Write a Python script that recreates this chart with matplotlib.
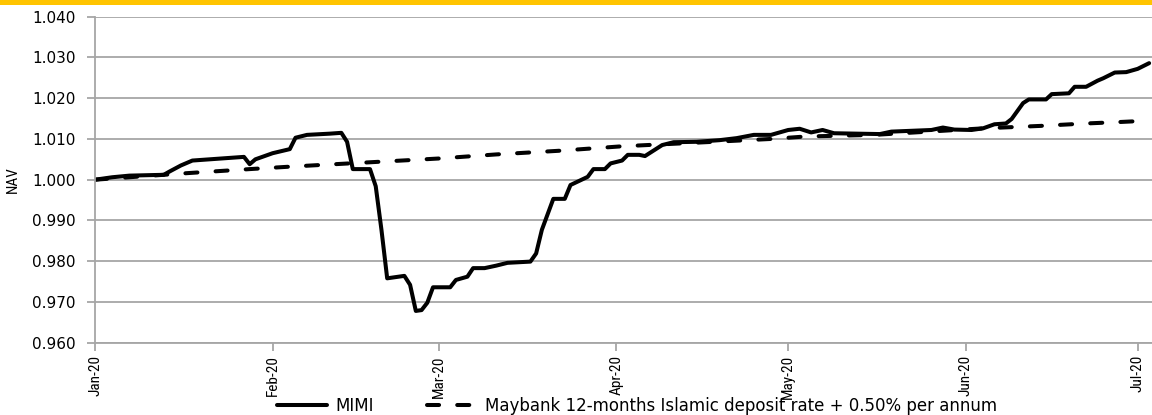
# NAV de MIMI frente al benchmark Maybank (ene-jul 2020)
import numpy as np
import pandas as pd
import matplotlib
matplotlib.use("Agg")
import matplotlib.pyplot as plt
import matplotlib.dates as mdates
from matplotlib.patches import Rectangle
from matplotlib import font_manager

# MIMI, valores
mimi_fechas = [
    "2020-01-01", "2020-01-04", "2020-01-07", "2020-01-13", "2020-01-14", "2020-01-16",
    "2020-01-18", "2020-01-21", "2020-01-27", "2020-01-28", "2020-01-29", "2020-02-01",
    "2020-02-04", "2020-02-05", "2020-02-07", "2020-02-11", "2020-02-13", "2020-02-14",
    "2020-02-15", "2020-02-18", "2020-02-19", "2020-02-20", "2020-02-21", "2020-02-24",
    "2020-02-25", "2020-02-26", "2020-02-27", "2020-02-28", "2020-02-29", "2020-03-03",
    "2020-03-04", "2020-03-06", "2020-03-07", "2020-03-09", "2020-03-11", "2020-03-13",
    "2020-03-17", "2020-03-18", "2020-03-19", "2020-03-21", "2020-03-23", "2020-03-24",
    "2020-03-27", "2020-03-28", "2020-03-30", "2020-03-31", "2020-04-02", "2020-04-03",
    "2020-04-05", "2020-04-06", "2020-04-09", "2020-04-11", "2020-04-15", "2020-04-19",
    "2020-04-22", "2020-04-25", "2020-04-28", "2020-05-01", "2020-05-03", "2020-05-05",
    "2020-05-07", "2020-05-09", "2020-05-17", "2020-05-19", "2020-05-26", "2020-05-28",
    "2020-05-30", "2020-06-02", "2020-06-04", "2020-06-06", "2020-06-08", "2020-06-09",
    "2020-06-11", "2020-06-12", "2020-06-15", "2020-06-16", "2020-06-19", "2020-06-20",
    "2020-06-22", "2020-06-24", "2020-06-25", "2020-06-27", "2020-06-29", "2020-07-01",
    "2020-07-03",
]
mimi_nav = [
    1.0000, 1.0006, 1.0010, 1.0012, 1.0020, 1.0035,
    1.0047, 1.0050, 1.0056, 1.0038, 1.0050, 1.0065,
    1.0075, 1.0103, 1.0110, 1.0113, 1.0115, 1.0093,
    1.0026, 1.0026, 0.9984, 0.9877, 0.9758, 0.9764,
    0.9742, 0.9678, 0.9680, 0.9698, 0.9736, 0.9736,
    0.9754, 0.9762, 0.9783, 0.9783, 0.9789, 0.9796,
    0.9799, 0.9819, 0.9877, 0.9953, 0.9953, 0.9987,
    1.0007, 1.0026, 1.0026, 1.0040, 1.0047, 1.0061,
    1.0061, 1.0058, 1.0085, 1.0092, 1.0093, 1.0097,
    1.0102, 1.0110, 1.0110, 1.0122, 1.0125, 1.0116,
    1.0122, 1.0114, 1.0112, 1.0118, 1.0122, 1.0128,
    1.0123, 1.0122, 1.0126, 1.0136, 1.0138, 1.0149,
    1.0188, 1.0197, 1.0197, 1.0210, 1.0212, 1.0228,
    1.0228, 1.0243, 1.0249, 1.0263, 1.0264, 1.0272,
    1.0286,
]

# benchmark (linea discontinua)
bench_fechas = [
    "2020-01-01", "2020-01-17", "2020-01-28", "2020-02-04", "2020-03-01", "2020-03-11",
    "2020-03-22", "2020-04-02", "2020-04-18", "2020-04-28", "2020-05-04", "2020-05-16",
    "2020-06-04", "2020-06-14", "2020-06-22", "2020-06-27", "2020-07-03",
]
bench_nav = [
    1.0000, 1.0016, 1.0026, 1.0032, 1.0052, 1.0062,
    1.0071, 1.0082, 1.0093, 1.0100, 1.0106, 1.0110,
    1.0126, 1.0132, 1.0138, 1.0141, 1.0145,
]

etiquetas = ["MIMI", "Maybank 12-months Islamic deposit rate + 0.50% per annum"]
yticks = np.arange(0.96, 1.0401, 0.01)

gris = "#a6a6a6"

# fuente estrecha para las fechas, si no hay se usa Roboto mas pequena
instaladas = {f.name for f in font_manager.fontManager.ttflist}
estrecha = None
for nombre in ["Liberation Sans Narrow", "Roboto Condensed", "DejaVu Sans Condensed"]:
    if nombre in instaladas:
        estrecha = nombre
        break
if estrecha is None:
    estrecha, tam_fecha = "Roboto", 9.5
else:
    tam_fecha = 11

fig = plt.figure(figsize=(11.52, 4.15), dpi=100)
fig.patches.append(Rectangle((0, 1 - 5 / 415), 1, 5 / 415, transform=fig.transFigure,
                             facecolor="#ffc400", edgecolor="none"))

ax = fig.add_axes([95 / 1152, 1 - 342.7 / 415, 1 - 95 / 1152, (342.7 - 16.7) / 415])

ax.plot(pd.to_datetime(mimi_fechas), mimi_nav, color="black", lw=2.9,
        solid_joinstyle="round", solid_capstyle="round", label=etiquetas[0])
ax.plot(pd.to_datetime(bench_fechas), bench_nav, color="black", lw=2.9,
        dashes=(3, 4.5), dash_capstyle="round", label=etiquetas[1])

ax.set_xlim(pd.Timestamp("2020-01-01"), pd.Timestamp("2020-07-03 12:00"))
ax.set_ylim(0.96, 1.04)
ax.set_yticks(yticks)
ax.yaxis.set_major_formatter(plt.FuncFormatter(lambda v, p: f"{v:.3f}"))
ax.xaxis.set_major_locator(mdates.MonthLocator())
ax.xaxis.set_major_formatter(mdates.DateFormatter("%b-%y"))

ax.grid(axis="y", color=gris, lw=1.3)
ax.set_axisbelow(True)
for lado in ["top", "right"]:
    ax.spines[lado].set_visible(False)
for lado in ["left", "bottom"]:
    ax.spines[lado].set_color(gris)
    ax.spines[lado].set_linewidth(1.3)

ax.tick_params(axis="y", length=6, width=1.3, color=gris, pad=8, labelsize=11)
ax.tick_params(axis="x", length=6, width=1.3, color=gris, pad=3)
for t in ax.get_xticklabels():
    t.set_rotation(90)
    t.set_family(estrecha)
    t.set_fontsize(tam_fecha)
    t.set_horizontalalignment("center")

ax.set_ylabel("NAV", family=estrecha, fontsize=tam_fecha, labelpad=6)
ax.yaxis.set_label_coords(-0.071, 0.5)

fig.legend(loc="center", bbox_to_anchor=(0.553, 0.022), ncol=2, frameon=False,
           fontsize=12, handlelength=3.0, columnspacing=3.2, handletextpad=0.5)

fig.savefig("out.png", dpi=100)
